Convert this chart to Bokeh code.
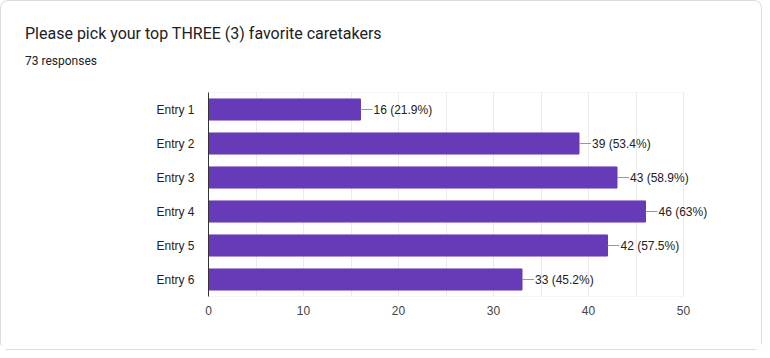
from bokeh.plotting import figure
from bokeh.models import Range1d, FixedTicker, ColumnDataSource, Div
from bokeh.layouts import column
from bokeh.embed import file_html
from bokeh.resources import INLINE
from bokeh.core.properties import value

categories = ["Entry 1", "Entry 2", "Entry 3", "Entry 4", "Entry 5", "Entry 6"]
counts = [16, 39, 43, 46, 42, 33]
percents = ["21.9%", "53.4%", "58.9%", "63%", "57.5%", "45.2%"]
title_text = "Please pick your top THREE (3) favorite caretakers"
subtitle_text = "73 responses"
x_ticks = [0, 10, 20, 30, 40, 50]
x_minor = [5, 15, 25, 35, 45]
x_max = 50

labels = [f"{c} ({p})" for c, p in zip(counts, percents)]
src = ColumnDataSource(dict(cat=categories, n=counts, lab=labels))
box = ColumnDataSource(dict(l=[0], r=[x_max], b=[0], t=[len(categories)]))

FW, FH = 760, 280
p = figure(width=FW, height=FH, y_range=list(reversed(categories)),
           x_range=Range1d(0, 58), output_backend="svg", toolbar_location=None,
           min_border_left=207, min_border_right=2, min_border_top=23, min_border_bottom=53)
p.title = None
p.background_fill_color = "white"
p.border_fill_color = "white"
p.outline_line_color = None

p.quad(left="l", right="r", bottom="b", top="t", source=box,
       fill_color=None, line_color="#ebebeb", line_width=1)
p.hbar(y="cat", right="n", left=0, height=0.62, source=src, color="#673ab7")
p.ray(x="n", y="cat", length=12, angle=0, length_units="screen", source=src,
      line_color="#999999", line_width=1)
p.text(x="n", y="cat", text="lab", source=src, x_offset=13, text_baseline="middle",
       text_align="left", text_font=value("Liberation Sans"), text_font_size="12px",
       text_color="#222222")

p.xaxis.ticker = FixedTicker(ticks=x_ticks, minor_ticks=x_minor)
p.xaxis.axis_line_color = None
p.xaxis.major_tick_line_color = None
p.xaxis.minor_tick_line_color = None
p.xaxis.major_label_standoff = 3
p.xaxis.major_label_text_font = "Liberation Sans"
p.xaxis.major_label_text_font_size = "12px"
p.xaxis.major_label_text_color = "#444444"

p.yaxis.axis_line_color = "#333333"
p.yaxis.major_tick_line_color = None
p.yaxis.minor_tick_line_color = None
p.yaxis.major_label_standoff = 8
p.yaxis.major_label_text_font = "Liberation Sans"
p.yaxis.major_label_text_font_size = "12px"
p.yaxis.major_label_text_color = "#222222"

p.ygrid.grid_line_color = None
p.xgrid.grid_line_color = "#ebebeb"
p.xgrid.minor_grid_line_color = "#ebebeb"

title = Div(text=title_text, width=700, height=20, margin=(23, 0, 0, 24),
            styles={"font-family": "Roboto", "font-size": "16px", "line-height": "20px",
                    "color": "#202124", "white-space": "nowrap"})
sub = Div(text=subtitle_text, width=300, height=16, margin=(9, 0, 0, 24),
          styles={"font-family": "Roboto", "font-size": "12px", "line-height": "16px",
                  "color": "#202124", "white-space": "nowrap"})

layout = column(title, sub, p, spacing=0,
                styles={"border": "1px solid #dadce0", "border-radius": "8px",
                        "background-color": "white"})

open("out.html", "w").write(file_html(layout, INLINE))
